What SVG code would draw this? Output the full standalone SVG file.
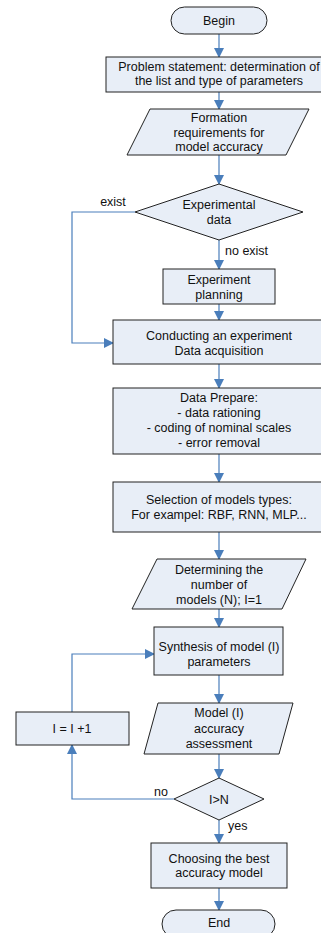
<svg xmlns="http://www.w3.org/2000/svg" width="321" height="933" viewBox="0 0 321 933">
<defs>
<marker id="ah" markerWidth="10" markerHeight="10" refX="9" refY="5" orient="auto" markerUnits="userSpaceOnUse">
<path d="M0,0 L10,5 L0,10 Z" fill="#4A7EBB"/>
</marker>
<style>
.n{fill:#E8EEF7;stroke:#222;stroke-width:1}
.c{fill:none;stroke:#4A7EBB;stroke-width:1.2;marker-end:url(#ah)}
.l{fill:none;stroke:#4A7EBB;stroke-width:1.2}
text{font-family:"Liberation Sans",Arial,sans-serif;font-size:12.5px;fill:#111;text-anchor:middle}
.s{text-anchor:start}
</style>
</defs>
<rect width="321" height="933" fill="#fff"/>
<g id="connectors">
<line class="c" x1="219" y1="34" x2="219" y2="57"/>
<line class="c" x1="219" y1="92" x2="219" y2="109"/>
<line class="c" x1="219" y1="155" x2="219" y2="184"/>
<line class="c" x1="219" y1="240" x2="219" y2="269"/>
<line class="c" x1="219" y1="304" x2="219" y2="320"/>
<polyline class="c" points="135,212 72,212 72,343 113,343"/>
<line class="c" x1="219" y1="364" x2="219" y2="388"/>
<line class="c" x1="219" y1="454" x2="219" y2="482"/>
<line class="c" x1="219" y1="532" x2="219" y2="559"/>
<line class="c" x1="219" y1="609" x2="219" y2="627"/>
<line class="c" x1="219" y1="675" x2="219" y2="703"/>
<line class="c" x1="219" y1="754" x2="219" y2="778"/>
<polyline class="c" points="72,712 72,654 154,654"/>
<polyline class="c" points="174,799 72,799 72,745"/>
<line class="c" x1="219" y1="820" x2="219" y2="843"/>
<line class="c" x1="219" y1="888" x2="219" y2="910"/>
<text x="113" y="206">exist</text>
<text class="s" x="225" y="255">no exist</text>
<text x="161" y="796">no</text>
<text class="s" x="228" y="830">yes</text>
</g>
<g id="begin">
<rect class="n" x="171" y="7" width="96" height="27" rx="13.5"/>
<text x="219" y="25">Begin</text>
</g>
<g id="problem">
<rect class="n" x="106" y="57" width="226" height="35"/>
<text x="219" y="71">Problem statement: determination of</text>
<text x="219" y="85">the list and type of parameters</text>
</g>
<g id="formation">
<polygon class="n" points="150,109 309,109 286,155 127,155"/>
<text x="219" y="122">Formation</text>
<text x="219" y="137">requirements for</text>
<text x="219" y="151">model accuracy</text>
</g>
<g id="expdata">
<polygon class="n" points="219,184 303,212 219,240 135,212"/>
<text x="219" y="209">Experimental</text>
<text x="219" y="224">data</text>
</g>
<g id="planning">
<rect class="n" x="163" y="269" width="112" height="35"/>
<text x="219" y="284">Experiment</text>
<text x="219" y="299">planning</text>
</g>
<g id="conducting">
<rect class="n" x="113" y="320" width="220" height="44"/>
<text x="219" y="340">Conducting an experiment</text>
<text x="219" y="355">Data acquisition</text>
</g>
<g id="prepare">
<rect class="n" x="113" y="388" width="220" height="66"/>
<text x="219" y="402">Data Prepare:</text>
<text x="219" y="417">- data rationing</text>
<text x="219" y="432">- coding of nominal scales</text>
<text x="219" y="447">- error removal</text>
</g>
<g id="selection">
<rect class="n" x="113" y="482" width="220" height="50"/>
<text x="219" y="504">Selection of models types:</text>
<text x="219" y="519">For exampel: RBF, RNN, MLP...</text>
</g>
<g id="determining">
<polygon class="n" points="157,559 306,559 282,609 132,609"/>
<text x="219" y="574">Determining the</text>
<text x="219" y="589">number of</text>
<text x="219" y="604">models (N); I=1</text>
</g>
<g id="synthesis">
<rect class="n" x="154" y="627" width="129" height="48"/>
<text x="219" y="651">Synthesis of model (I)</text>
<text x="219" y="666">parameters</text>
</g>
<g id="increment">
<rect class="n" x="16" y="712" width="113" height="33"/>
<text x="72" y="733">I = I +1</text>
</g>
<g id="assessment">
<polygon class="n" points="158,703 293,703 279,754 144,754"/>
<text x="219" y="717">Model (I)</text>
<text x="219" y="733">accuracy</text>
<text x="219" y="748">assessment</text>
</g>
<g id="compare">
<polygon class="n" points="219,778 264,799 219,820 174,799"/>
<text x="219" y="804">I&gt;N</text>
</g>
<g id="choosing">
<rect class="n" x="151" y="843" width="136" height="45"/>
<text x="219" y="863">Choosing the best</text>
<text x="219" y="877">accuracy model</text>
</g>
<g id="end">
<rect class="n" x="162" y="910" width="113" height="28" rx="14"/>
<text x="219" y="927">End</text>
</g>
</svg>
